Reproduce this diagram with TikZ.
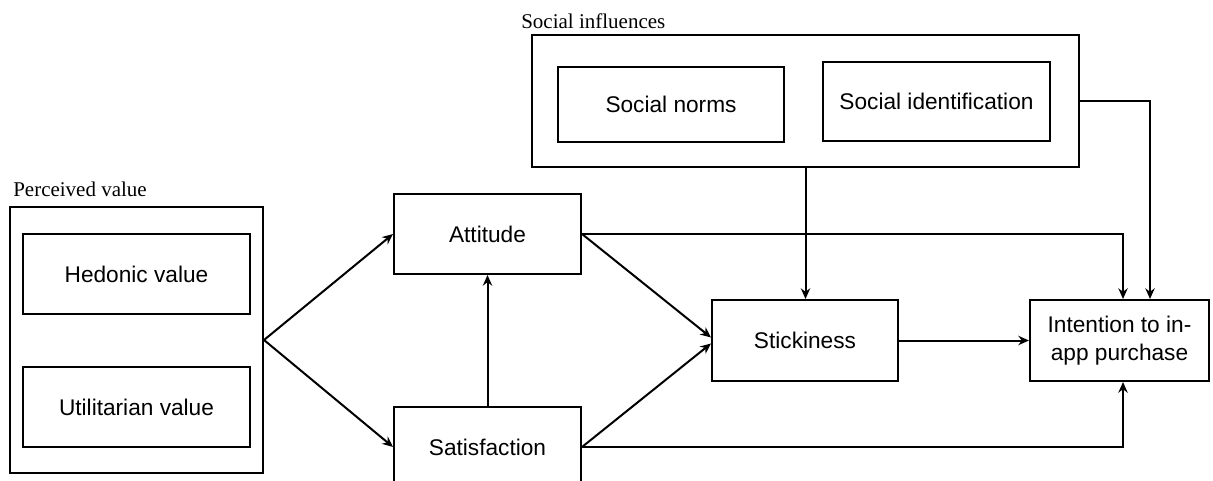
\documentclass[tikz,border=0pt]{standalone}
\usepackage{fontspec}
\setmainfont{Liberation Sans}
\newfontfamily\serifl{Liberation Serif}
\usetikzlibrary{arrows.meta,calc}
\begin{document}
\begin{tikzpicture}[x=0.75pt,y=-0.75pt,
 box/.style={draw, line width=1.5pt, inner sep=0pt, font=\fontsize{17}{20.5}\selectfont, align=center},
 arr/.style={line width=1.5pt, -{Stealth[length=8pt,width=7pt]}},
 grp/.style={font=\serifl\fontsize{15.75}{18}\selectfont, anchor=base west, inner sep=0pt}]
\useasboundingbox (0,0) rectangle (1213,481);
% perceived value group
\node[box, minimum width=189.75pt, minimum height=199.5pt] (pv) at (136.5,340) {};
\node[box, minimum width=170.25pt, minimum height=60pt] (hed) at (136.5,274) {Hedonic value};
\node[box, minimum width=170.25pt, minimum height=60pt] (uti) at (136.5,407) {Utilitarian value};
\node[grp] (pvl) at (13,196) {Perceived value};
% social influences group
\node[box, minimum width=410.25pt, minimum height=99pt] (si) at (805.5,101) {};
\node[box, minimum width=169.5pt, minimum height=56.25pt] (sn) at (671,104.5) {Social norms};
\node[box, minimum width=170.25pt, minimum height=59.25pt] (sid) at (936.5,101.5) {Social identification};
\node[grp] (sil) at (521,29) {Social influences};
% constructs
\node[box, minimum width=140.25pt, minimum height=60pt] (att) at (487.5,234) {Attitude};
\node[box, minimum width=140.25pt, minimum height=60pt] (sat) at (487.5,447) {Satisfaction};
\node[box, minimum width=139.5pt, minimum height=60.75pt] (stk) at (805,340.5) {Stickiness};
\node[box, minimum width=134.25pt, minimum height=60.75pt] (int) at (1119.5,340.5) {Intention to in-\\app purchase};
% connectors
\draw[arr] (pv.east) -- (att.west);
\draw[arr] (pv.east) -- (sat.west);
\draw[arr] (sat.north) -- (att.south);
\draw[arr] (att.east) -- ($(stk.west)+(0,-3)$);
\draw[arr] (sat.east) -- ($(stk.west)+(0,3)$);
\draw[arr] (att.east) -| ($(int.north)+(3.5,0)$);
\draw[arr] (sat.east) -| ($(int.south)+(3.5,0)$);
\draw[arr] (si.east) -| ($(int.north)+(30.5,0)$);
\draw[arr] (si.south) -- (si.south |- stk.north);
\draw[arr] (stk.east) -- (int.west);
\end{tikzpicture}
\end{document}
